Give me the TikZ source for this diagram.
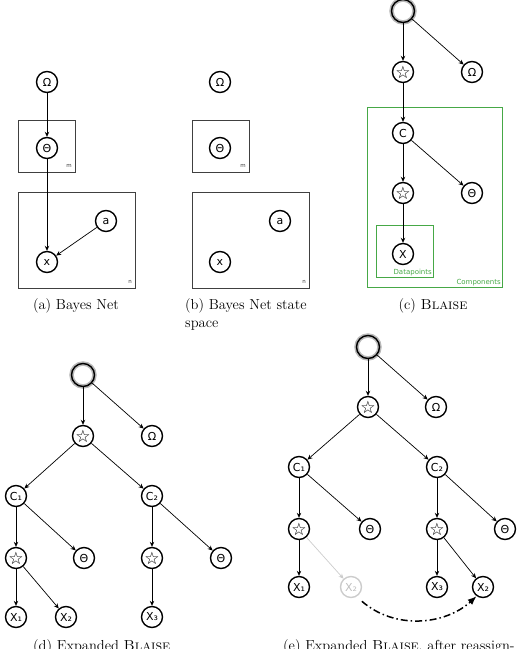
\documentclass[tikz,border=0pt]{standalone}
\usepackage{fontspec}
\newfontfamily\nodefont{DejaVu Sans}
\usetikzlibrary{arrows.meta}
\definecolor{plategreen}{RGB}{70,168,70}

\tikzset{
  var/.style={circle,draw,line width=1.4pt,minimum size=21pt,inner sep=0pt,
    font=\nodefont\fontsize{11}{11}\selectfont},
  starvar/.style={var,font=\nodefont\fontsize{17}{17}\selectfont},
  rootvar/.style={var,minimum size=23pt,preaction={draw=gray!55,line width=4.5pt}},
  edge/.style={-{Stealth[length=5pt,width=4.5pt]},line width=0.7pt},
  plate/.style={draw=black!75,line width=0.8pt},
  gplate/.style={draw=plategreen,line width=0.8pt},
  platelbl/.style={font=\nodefont\fontsize{5.5}{6}\selectfont,text=black!75,inner sep=0pt},
  gplatelbl/.style={font=\nodefont\fontsize{7}{8}\selectfont,text=plategreen,inner sep=1pt},
  caption/.style={font=\fontsize{14.5}{18}\selectfont,inner sep=0pt},
}

\begin{document}
\begin{tikzpicture}[x=1pt,y=-1pt]
\useasboundingbox (0,0) rectangle (523,649);
\clip (0,0) rectangle (523,649);

% (a) Bayes net
\draw[plate] (18,120) rectangle (75,172);
\draw[plate] (18,192) rectangle (135,288);
\node[platelbl] at (69,166) {m};
\node[platelbl] at (130,282) {n};
\node[var] (Oma) at (47,82) {Ω};
\node[var] (Tha) at (47,148) {Θ};
\node[var] (xa) at (47,262) {x};
\node[var] (aa) at (106,221) {a};
\draw[edge] (Oma) -- (Tha);
\draw[edge] (Tha) -- (xa);
\draw[edge] (aa) -- (xa);
\node[caption,anchor=base] (capa) at (76,309) {(a) Bayes Net};

% (b) state space
\draw[plate] (192,120) rectangle (249,172);
\draw[plate] (192,192) rectangle (309,288);
\node[platelbl] at (243,166) {m};
\node[platelbl] at (304,282) {n};
\node[var] (Omb) at (220,82) {Ω};
\node[var] (Thb) at (220,148) {Θ};
\node[var] (xb) at (220,262) {x};
\node[var] (ab) at (280,221) {a};
\node[caption,anchor=base west] (capb) at (185,309) {(b) Bayes Net state};
\node[caption,anchor=base west] (capb2) at (185,327) {space};

% (c) Blaise
\draw[gplate] (367,107) rectangle (502,287);
\draw[gplate] (376,225) rectangle (433,277);
\node[gplatelbl,anchor=south east] at (433,277) {Datapoints};
\node[gplatelbl,anchor=south east] at (502,287) {Components};
\node[rootvar] (rtc) at (403,11) {};
\node[starvar] (stc) at (403,72) {☆};
\node[var] (Omc) at (472,72) {Ω};
\node[var] (Cc) at (403,133) {C};
\node[starvar] (st2c) at (403,193) {☆};
\node[var] (Thc) at (472,193) {Θ};
\node[var] (Xc) at (403,254) {X};
\draw[edge] (rtc) -- (stc);
\draw[edge] (rtc) -- (Omc);
\draw[edge] (stc) -- (Cc);
\draw[edge] (Cc) -- (st2c);
\draw[edge] (Cc) -- (Thc);
\draw[edge] (st2c) -- (Xc);
\node[caption,anchor=base] (capc) at (433,309) {(c) \textsc{Blaise}};

% (d) expanded Blaise
\node[rootvar] (rtd) at (83,375) {};
\node[starvar] (std) at (83,436) {☆};
\node[var] (Omd) at (152,436) {Ω};
\node[var] (C1d) at (16,496) {C₁};
\node[var] (C2d) at (152,496) {C₂};
\node[starvar] (s1d) at (16,558) {☆};
\node[var] (T1d) at (84,558) {Θ};
\node[starvar] (s2d) at (152,558) {☆};
\node[var] (T2d) at (221,558) {Θ};
\node[var] (X1d) at (16,617) {X₁};
\node[var] (X2d) at (66,617) {X₂};
\node[var] (X3d) at (152,617) {X₃};
\draw[edge] (rtd) -- (std);
\draw[edge] (rtd) -- (Omd);
\draw[edge] (std) -- (C1d);
\draw[edge] (std) -- (C2d);
\draw[edge] (C1d) -- (s1d);
\draw[edge] (C1d) -- (T1d);
\draw[edge] (C2d) -- (s2d);
\draw[edge] (C2d) -- (T2d);
\draw[edge] (s1d) -- (X1d);
\draw[edge] (s1d) -- (X2d);
\draw[edge] (s2d) -- (X3d);
\node[caption,anchor=base west] (capd) at (33,650) {(d) Expanded \textsc{Blaise}};

% (e) after reassignment
\node[rootvar] (rte) at (368,347) {};
\node[starvar] (ste) at (368,407) {☆};
\node[var] (Ome) at (436,407) {Ω};
\node[var] (C1e) at (299,467) {C₁};
\node[var] (C2e) at (437,467) {C₂};
\node[starvar] (s1e) at (299,529) {☆};
\node[var] (T1e) at (370,529) {Θ};
\node[starvar] (s2e) at (437,529) {☆};
\node[var] (T2e) at (505,529) {Θ};
\node[var] (X1e) at (299,587) {X₁};
\node[var,draw=black!20,text=black!25] (Xge) at (351,587) {X₂};
\node[var] (X3e) at (437,587) {X₃};
\node[var] (X2e) at (483,587) {X₂};
\draw[edge] (rte) -- (ste);
\draw[edge] (rte) -- (Ome);
\draw[edge] (ste) -- (C1e);
\draw[edge] (ste) -- (C2e);
\draw[edge] (C1e) -- (s1e);
\draw[edge] (C1e) -- (T1e);
\draw[edge] (C2e) -- (s2e);
\draw[edge] (C2e) -- (T2e);
\draw[edge] (s1e) -- (X1e);
\draw[edge,draw=black!20] (s1e) -- (Xge);
\draw[edge] (s2e) -- (X3e);
\draw[edge] (s2e) -- (X2e);
\draw[line width=1.5pt,dash pattern=on 7pt off 3pt on 1.5pt off 3pt,
  -{Latex[length=9pt,width=7pt]},shorten <=7pt]
  (Xge.-60) .. controls (395,630) and (445,625) .. (X2e.-125);
\node[caption,anchor=base west] (cape) at (283,650) {(e) Expanded \textsc{Blaise}, after reassign-};
\end{tikzpicture}
\end{document}
